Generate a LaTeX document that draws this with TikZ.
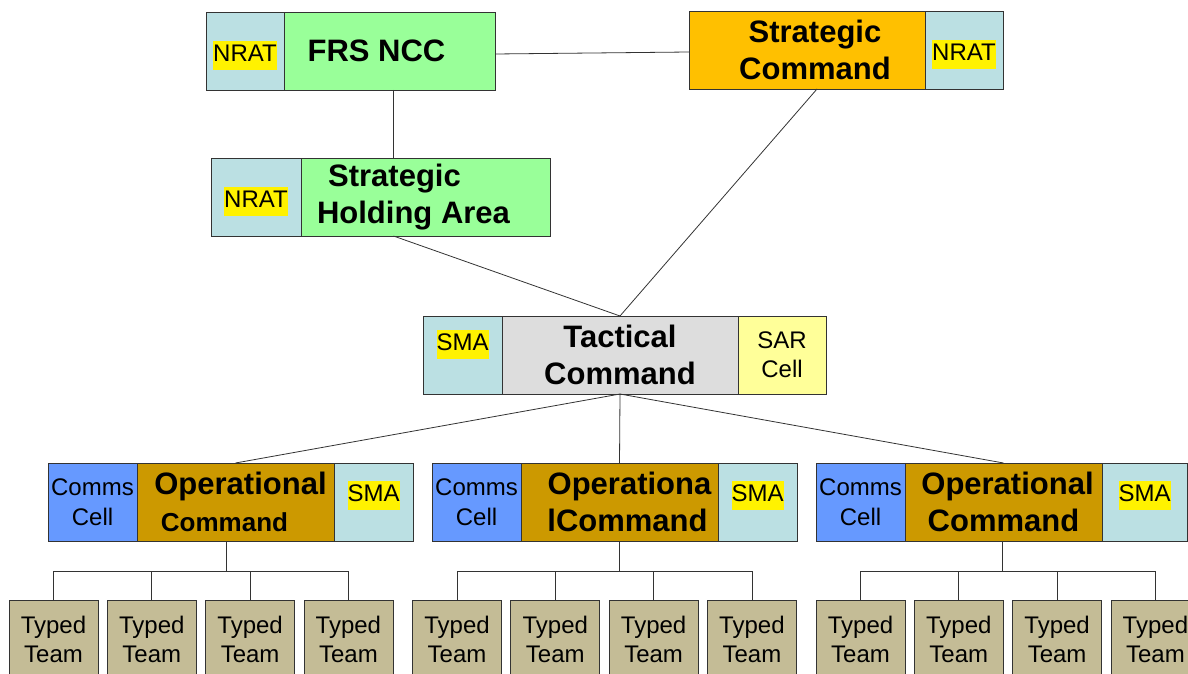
\documentclass[tikz,border=0pt]{standalone}
\usepackage{fontspec}
\setmainfont{Liberation Sans}
\usepackage{xcolor}
\usetikzlibrary{positioning}
\definecolor{nratBlue}{HTML}{BBE0E3}
\definecolor{paleGreen}{HTML}{99FF99}
\definecolor{amber}{HTML}{FFC000}
\definecolor{lightGrey}{HTML}{DDDDDD}
\definecolor{sarYellow}{HTML}{FFFF99}
\definecolor{commsBlue}{HTML}{6699FF}
\definecolor{gold}{HTML}{CC9900}
\definecolor{teamTan}{HTML}{C4BC96}
\newcommand{\hlt}[1]{{\setlength{\fboxsep}{0pt}\colorbox{yellow}{\strut #1}}}
\newcommand{\nudge}[1]{\hspace*{#1}}

\begin{document}
\begin{tikzpicture}[x=1pt,y=-1pt,
  node distance=0pt,
  cell/.style={draw=black!80, line width=0.8pt, inner sep=0pt, outer sep=0pt,
               minimum height=78pt, align=center, font=\fontsize{24}{29}\selectfont},
  head/.style={cell, font=\fontsize{31}{37}\selectfont\bfseries},
  nratcell/.style={cell, fill=nratBlue, text height=30pt},
  smacell/.style={cell, fill=nratBlue, minimum width=79pt, text depth=21pt},
  link/.style={draw=black!80, line width=0.8pt},
]
  \useasboundingbox (0,0) rectangle (1188,674);
  % top level
  \node[nratcell,minimum width=78pt](frsNrat) at (245,51){\hlt{NRAT}};
  \node[head,fill=paleGreen,minimum width=211pt,right=of frsNrat](frs){\nudge{-26pt}FRS NCC};
  \node[head,fill=amber,minimum width=236pt](stratCmd) at (807,50){\nudge{16pt}Strategic\\\nudge{16pt}Command};
  \node[nratcell,minimum width=78pt,right=of stratCmd](stratNrat){\hlt{NRAT}};
  \node[nratcell,minimum width=90pt](shaNrat) at (256,197){\hlt{NRAT}};
  \node[head,fill=paleGreen,minimum width=249pt,right=of shaNrat](sha){\nudge{-62pt}Strategic\\\nudge{-24pt}Holding Area};
  % tactical
  \node[head,fill=lightGrey,minimum width=236pt](tac) at (620,355){Tactical\\Command};
  \node[smacell,text depth=29pt,left=of tac](tacSma){\hlt{SMA}};
  \node[cell,fill=sarYellow,minimum width=88pt,right=of tac](tacSar){SAR\\Cell};
  % operational
  \node[head,fill=gold,minimum width=197pt](op1) at (235.5,502){\nudge{10pt}Operational\\\fontsize{26}{31}\selectfont\nudge{-22pt}Command};
  \node[head,fill=gold,minimum width=197pt](op2) at (619.5,502){\nudge{20pt}Operationa\\\nudge{16pt}lCommand};
  \node[head,fill=gold,minimum width=197pt](op3) at (1003.5,502){\nudge{8pt}Operational\\Command};
  \foreach \k in {1,2,3}{
    \node[cell,fill=commsBlue,minimum width=89pt,font=\fontsize{24}{30}\selectfont,left=of op\k](op\k comms){Comms\\Cell};
  }
  \node[smacell,right=of op1](op1sma){\hlt{SMA}};
  \node[smacell,right=of op2](op2sma){\hlt{SMA}};
  \node[smacell,minimum width=85pt,right=of op3](op3sma){\hlt{SMA}};
  \coordinate (drop1) at ([xshift=-9pt]op1.south);
  \coordinate (drop2) at (op2.south);
  \coordinate (drop3) at ([xshift=-1pt]op3.south);
  % typed teams
  \foreach \k in {1,2,3}{
    \foreach \i in {1,...,4}{
      \node[cell,fill=teamTan,minimum width=89pt](t\k\i) at ({53.5+403.5*(\k-1)+98.3*(\i-1)},639){Typed\\Team};
      \draw[link](drop\k)--++(0,30)-|(t\k\i.north);
    }
  }
  % connectors
  \draw[link]([yshift=-3pt]frs.east)--([yshift=-2pt]stratCmd.west);
  \draw[link]([xshift=4pt]frs.south)--([xshift=4pt]frs.south |- sha.north);
  \draw[link]([xshift=4pt]frs.south |- sha.south)--(tac.north);
  \draw[link]([xshift=10pt]stratCmd.south)--(tac.north);
  \foreach \k in {1,2,3} \draw[link](tac.south)--(op\k.north);
\end{tikzpicture}
\end{document}
